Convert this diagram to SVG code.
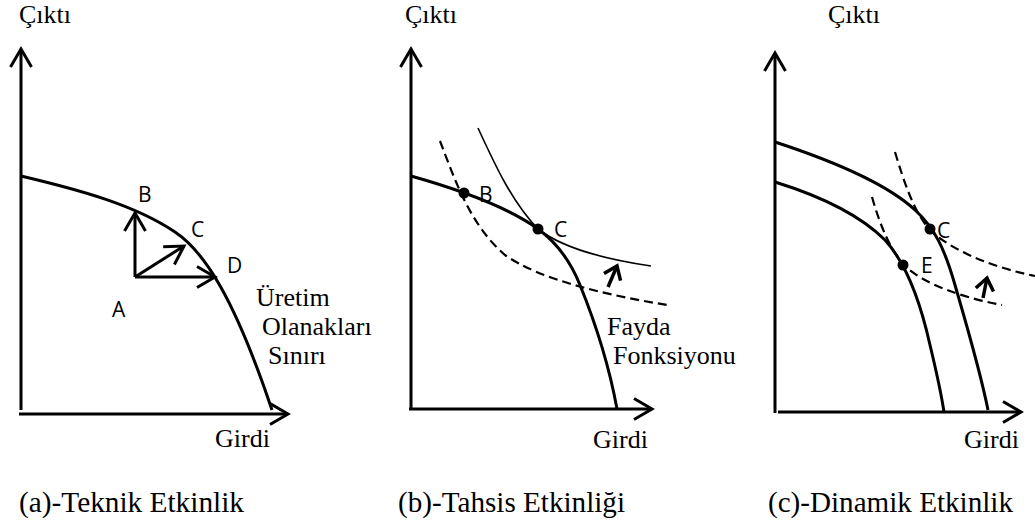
<svg xmlns="http://www.w3.org/2000/svg" width="1035" height="524" viewBox="0 0 1035 524">
<defs>
<style>
.lbl{font-family:"Liberation Serif","Times New Roman",serif;font-size:26px;fill:#000}
.cap{font-family:"Liberation Serif","Times New Roman",serif;font-size:29px;fill:#000}
.pt{font-family:"Open Sans","Liberation Sans",sans-serif;font-size:21px;fill:#000}
.axis{stroke:#000;stroke-width:3;fill:none;marker-end:url(#head)}
.ppf{stroke:#000;stroke-width:3;fill:none}
.thin{stroke:#000;stroke-width:1.6;fill:none}
.dash{stroke:#000;stroke-width:2.2;fill:none;stroke-dasharray:9 5}
.vec{stroke:#000;stroke-width:3;fill:none;marker-end:url(#head)}
.sm{stroke:#000;stroke-width:3.5;fill:none;marker-end:url(#small)}
</style>
<marker id="head" markerUnits="userSpaceOnUse" markerWidth="40" markerHeight="40" refX="0" refY="0" orient="auto" overflow="visible">
<path d="M-18,-10.5 L0,0 L-18,10.5" fill="none" stroke="#000" stroke-width="3" stroke-linejoin="miter"/>
</marker>
<marker id="small" markerUnits="userSpaceOnUse" markerWidth="30" markerHeight="30" refX="0" refY="0" orient="auto" overflow="visible">
<path d="M-12,-9 L0,0 L-12,9" fill="none" stroke="#000" stroke-width="3.5"/>
</marker>
</defs>
<rect width="1035" height="524" fill="#fff"/>

<g id="connectors">
<line class="axis" x1="21" y1="410" x2="21" y2="49"/>
<line class="axis" x1="19" y1="414" x2="288" y2="414"/>
<line class="vec" x1="135" y1="277" x2="135" y2="213"/>
<line class="vec" x1="135" y1="277" x2="184" y2="246"/>
<line class="vec" x1="135" y1="277" x2="215" y2="277"/>
<line class="axis" x1="411" y1="410" x2="411" y2="49"/>
<line class="axis" x1="409" y1="409" x2="652" y2="409"/>
<line class="sm" x1="608" y1="287" x2="617" y2="266"/>
<line class="axis" x1="775" y1="413" x2="775" y2="53"/>
<line class="axis" x1="778" y1="412" x2="1021" y2="412"/>
<line class="sm" x1="983" y1="298" x2="987" y2="278"/>
</g>

<g id="panel-a">
<text class="lbl" x="19" y="23">Çıktı</text>
<path class="ppf" d="M21,176 C80,190 135,205 175,232 C205,252 235,300 272,410"/>
<text class="pt" x="138" y="202">B</text>
<text class="pt" x="191" y="237">C</text>
<text class="pt" x="227" y="273">D</text>
<text class="pt" x="112" y="317">A</text>
<text class="lbl" x="256" y="306">Üretim</text>
<text class="lbl" x="262" y="335">Olanakları</text>
<text class="lbl" x="268" y="364">Sınırı</text>
<text class="lbl" x="215" y="447">Girdi</text>
<text class="cap" x="19" y="512" textLength="225" lengthAdjust="spacingAndGlyphs">(a)-Teknik Etkinlik</text>
</g>

<g id="panel-b">
<text class="lbl" x="405" y="23">Çıktı</text>
<path class="ppf" d="M411,176 C450,187 505,205 538,229 C560,245 572,265 580,285 C595,322 609,365 617,409"/>
<path class="thin" d="M478,128 C495,165 512,202 538,229 C565,250 610,260 651,266"/>
<path class="dash" d="M440,141 C455,180 470,225 505,255 C540,280 610,296 668,305"/>
<circle cx="464" cy="193" r="5.5" fill="#000"/>
<circle cx="538" cy="229" r="5.5" fill="#000"/>
<text class="pt" x="479" y="202">B</text>
<text class="pt" x="554" y="237">C</text>
<text class="lbl" x="607" y="335">Fayda</text>
<text class="lbl" x="613" y="364">Fonksiyonu</text>
<text class="lbl" x="593" y="448">Girdi</text>
<text class="cap" x="398" y="512" textLength="227" lengthAdjust="spacingAndGlyphs">(b)-Tahsis Etkinliği</text>
</g>

<g id="panel-c">
<text class="lbl" x="828" y="23">Çıktı</text>
<path class="ppf" d="M775,142 C830,160 885,182 915,210 C935,228 945,250 955,285 C968,330 980,370 988,410"/>
<path class="ppf" d="M775,182 C820,196 860,215 885,240 C905,262 920,300 930,345 C936,370 941,392 944,412"/>
<path class="dash" d="M895,152 C905,185 915,215 932,232 C955,252 995,268 1035,276"/>
<path class="dash" d="M872,197 C880,225 890,250 905,266 C925,285 965,298 1002,305"/>
<circle cx="930" cy="229" r="5.5" fill="#000"/>
<circle cx="903" cy="265" r="5.5" fill="#000"/>
<text class="pt" x="937" y="238">C</text>
<text class="pt" x="921" y="273">E</text>
<text class="lbl" x="964" y="448">Girdi</text>
<text class="cap" x="768" y="512" textLength="245" lengthAdjust="spacingAndGlyphs">(c)-Dinamik Etkinlik</text>
</g>
</svg>
